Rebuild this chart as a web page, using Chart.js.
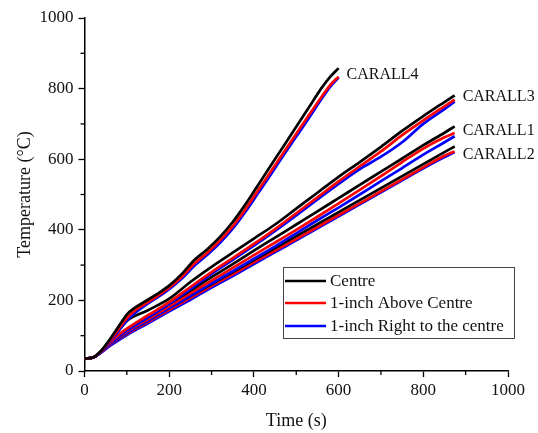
<!DOCTYPE html>
<html>
<head>
<meta charset="utf-8">
<script src="https://cdn.jsdelivr.net/npm/chart.js@4/dist/chart.umd.min.js"></script>
<style>
  html, body { margin: 0; padding: 0; background: #fff; }
  #wrap { width: 538px; height: 433px; position: relative; }
</style>
</head>
<body>
<div id="wrap"><canvas id="c" width="538" height="433"></canvas></div>
<script>
// ---- Data ----
const timeA = [0,20,40,60,80,100,120,140,170,200,230,260,290,320,350,380,410,440,470,500,530,560,580,600];
const timeB = [0,20,40,60,80,100,150,200,250,300,350,400,450,500,550,600,650,700,750,800,850,874];

const c4Centre = [35,38,58,90,125,160,180,195,217,242,275,315,345,380,422,472,527,582,637,692,747,802,833,858];
const c4Above  = [35,38,57,86,118,150,172,188,211,236,267,305,335,370,410,458,512,565,619,672,725,777,810,834];
const c4Right  = [35,38,56,83,112,143,165,183,207,232,262,299,329,363,403,451,504,557,611,664,717,771,805,831];

const c3Centre = [35,38,57,86,114,142,172,205,252,295,335,375,415,460,505,550,592,635,680,722,762,781];
const c3Above  = [35,38,55,80,102,120,158,195,238,280,320,360,402,447,492,537,580,622,668,710,750,769];
const c3Right  = [35,38,54,77,98,115,152,190,232,275,315,355,397,441,486,530,572,607,648,700,742,763];

const c1Centre = [35,38,56,78,98,116,152,190,228,266,303,341,378,415,452,490,527,565,602,640,675,693];
const c1Above  = [35,38,55,76,95,112,147,183,220,256,292,328,364,400,437,475,513,552,592,630,662,674];
const c1Right  = [35,38,54,74,92,108,143,178,213,248,283,318,353,390,427,463,500,538,575,613,648,665];

const c2Centre = [35,38,55,75,92,108,143,178,212,246,280,314,348,382,416,450,484,518,552,586,620,636];
const c2Above  = [35,38,54,73,90,105,139,173,207,241,274,308,341,374,408,442,475,509,543,577,610,622];
const c2Right  = [35,38,53,71,87,102,135,169,202,236,269,303,337,370,404,438,472,506,540,574,606,620];

const caseNames = ['CARALL4','CARALL3','CARALL1','CARALL2'];
const legendNames = ['Centre','1-inch Above Centre','1-inch Right to the centre'];
const xTicks = [0,200,400,600,800,1000];
const yTicks = [0,200,400,600,800,1000];

// ---- Build datasets ----
const COLORS = ['#000000', '#ff0000', '#0000ff'];
const cases = [
  { name: caseNames[0], t: timeA, s: [c4Centre, c4Above, c4Right] },
  { name: caseNames[1], t: timeB, s: [c3Centre, c3Above, c3Right] },
  { name: caseNames[2], t: timeB, s: [c1Centre, c1Above, c1Right] },
  { name: caseNames[3], t: timeB, s: [c2Centre, c2Above, c2Right] }
];
const datasets = [];
cases.forEach(cs => {
  cs.s.forEach((vals, k) => {
    datasets.push({
      label: cs.name + ' ' + legendNames[k],
      data: cs.t.map((t, i) => ({ x: t, y: vals[i] })),
      borderColor: COLORS[k],
      borderWidth: 2.7,
      pointRadius: 0,
      fill: false,
      cubicInterpolationMode: 'monotone'
    });
  });
});

const SERIF = '"Liberation Serif", "Times New Roman", serif';

const overlay = {
  id: 'overlay',
  afterDraw(chart) {
    const { ctx, scales: { x, y } } = chart;
    ctx.save();
    // minor ticks
    ctx.strokeStyle = '#000';
    ctx.lineWidth = 1.3;
    for (let v = 100; v < 1000; v += 200) {
      const px = x.getPixelForValue(v);
      ctx.beginPath(); ctx.moveTo(px, y.bottom); ctx.lineTo(px, y.bottom + 4); ctx.stroke();
      const py = y.getPixelForValue(v);
      ctx.beginPath(); ctx.moveTo(x.left, py); ctx.lineTo(x.left - 4, py); ctx.stroke();
    }
    // case labels at the ends of the curves
    ctx.fillStyle = '#111';
    ctx.font = '16px ' + SERIF;
    ctx.textBaseline = 'middle';
    ctx.textAlign = 'left';
    const dys = [2, -2, -1, 5];
    cases.forEach((cs, i) => {
      const n = cs.t.length - 1;
      const tx = x.getPixelForValue(cs.t[n]) + 8;
      const ty = y.getPixelForValue((cs.s[0][n] + cs.s[2][n]) / 2) + dys[i];
      ctx.fillText(cs.name, tx, ty);
    });
    // legend box
    const bx = 283, by = 267, bw = 231, bh = 71;
    ctx.fillStyle = '#fff';
    ctx.fillRect(bx, by, bw, bh);
    ctx.strokeStyle = '#444';
    ctx.lineWidth = 1;
    ctx.strokeRect(bx + 0.5, by + 0.5, bw, bh);
    ctx.font = '17px ' + SERIF;
    const rows = [281, 303, 326];
    legendNames.forEach((name, k) => {
      ctx.strokeStyle = COLORS[k];
      ctx.lineWidth = 2.6;
      ctx.beginPath(); ctx.moveTo(285, rows[k]); ctx.lineTo(326, rows[k]); ctx.stroke();
      ctx.fillStyle = '#111';
      ctx.fillText(name, 330, rows[k] + 1);
    });
    ctx.restore();
  }
};

new Chart(document.getElementById('c'), {
  type: 'line',
  data: { datasets },
  options: {
    responsive: false,
    animation: false,
    devicePixelRatio: 1,
    layout: { padding: { top: 18, right: 30, left: 0, bottom: 0 } },
    plugins: { legend: { display: false }, tooltip: { enabled: false } },
    scales: {
      x: {
        type: 'linear',
        min: 0, max: 1000,
        afterFit(s) { s.height = 62; },
        afterBuildTicks(s) { s.ticks = xTicks.map(v => ({ value: v })); },
        grid: { display: true, drawOnChartArea: false, drawTicks: true, tickLength: 6, tickColor: '#000', tickWidth: 1.3 },
        border: { display: true, color: '#000', width: 1.5 },
        ticks: { color: '#111', font: { family: SERIF, size: 17 }, padding: 3, maxRotation: 0, callback: v => String(v) },
        title: { display: true, text: 'Time (s)', color: '#111', font: { family: SERIF, size: 18 }, padding: { top: 0, bottom: 1 } }
      },
      y: {
        type: 'linear',
        min: 0, max: 1000,
        afterFit(s) { s.width = 84.5; },
        afterBuildTicks(s) { s.ticks = yTicks.map(v => ({ value: v })); },
        grid: { display: true, drawOnChartArea: false, drawTicks: true, tickLength: 6, tickColor: '#000', tickWidth: 1.3 },
        border: { display: true, color: '#000', width: 1.5 },
        ticks: { color: '#111', font: { family: SERIF, size: 17 }, padding: 5, callback: v => String(v) },
        title: { display: true, text: 'Temperature (°C)', color: '#111', font: { family: SERIF, size: 18 }, padding: { top: 14, bottom: 0 } }
      }
    }
  },
  plugins: [overlay]
});
</script>
</body>
</html>
